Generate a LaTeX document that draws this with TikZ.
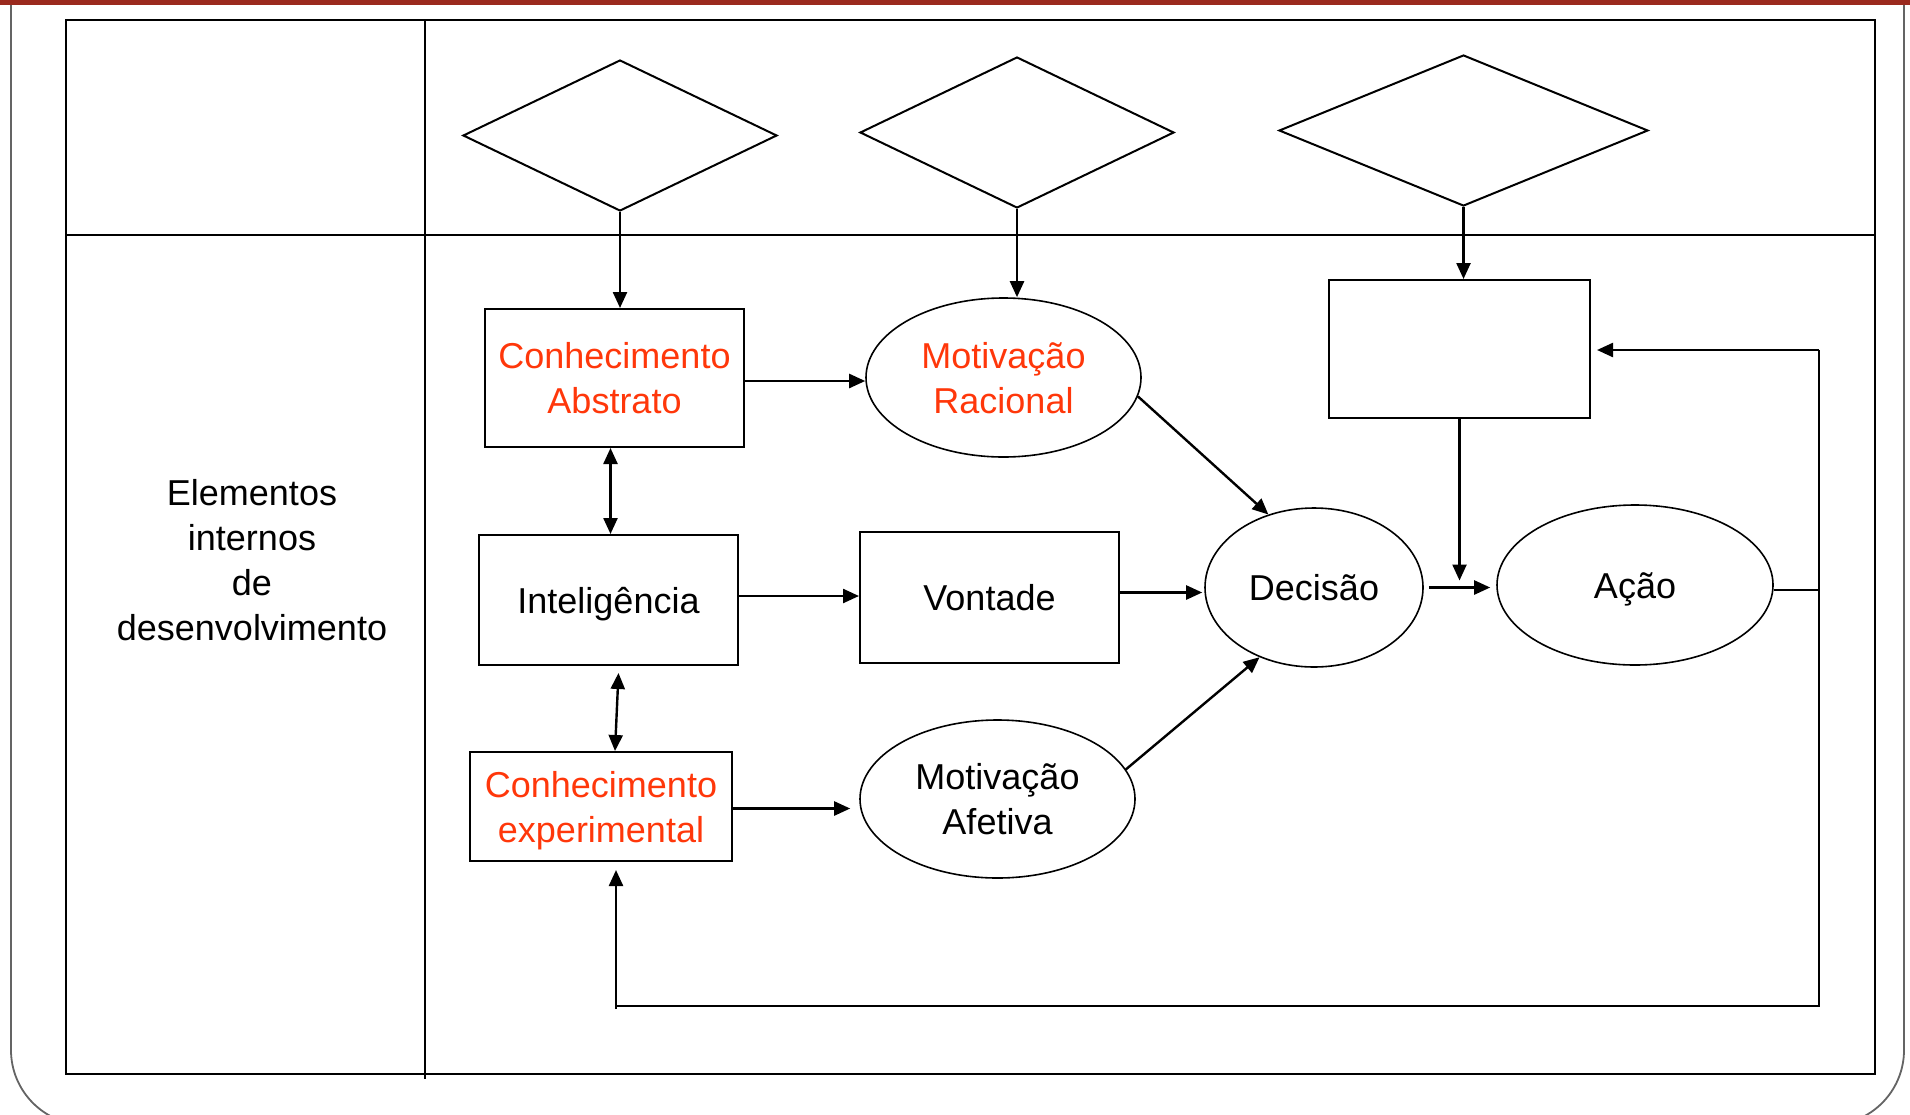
\documentclass[tikz,border=0pt]{standalone}
\usepackage{fontspec}
\setmainfont{Liberation Sans}
\usetikzlibrary{shapes.geometric,arrows.meta,calc}
\definecolor{barred}{RGB}{155,42,30}
\definecolor{txtred}{RGB}{255,55,10}
\definecolor{framegray}{RGB}{100,100,100}
\begin{document}
\begin{tikzpicture}[x=1pt,y=-1pt,
  box/.style={draw,line width=2pt,rectangle,inner sep=0pt,align=center,text depth=0pt},
  ell/.style={draw,line width=1.6pt,ellipse,inner sep=0pt,align=center,text depth=0pt},
  oneline/.style={text height=26pt,text depth=0pt},
  dia/.style={draw,line width=2pt,diamond,inner sep=0pt},
  conn/.style={line width=2.4pt,-{Triangle[length=16pt,width=14pt]}},
  dconn/.style={line width=2.4pt,{Triangle[length=16pt,width=14pt]}-{Triangle[length=16pt,width=14pt]}},
  lineonly/.style={line width=2.2pt},
  font=\fontsize{36}{45}\selectfont]
\useasboundingbox (0,0) rectangle (1910,1114);
% page decoration
\fill[barred] (0,0) rectangle (1910,5);
\draw[framegray,line width=1.8pt,rounded corners=75pt] (11,5) -- (11,1125) -- (1904,1125) -- (1904,5);
% table
\draw[line width=2pt] (66,20) rectangle (1875,1074);
\draw[line width=2pt] (425,20) -- (425,1079);
\draw[line width=2pt] (66,235) -- (1875,235);
% diamonds
\node[dia,minimum width=314,minimum height=151] (d1) at (620,135.5) {};
\node[dia,minimum width=314,minimum height=151] (d2) at (1017,132.5) {};
\node[dia,minimum width=369,minimum height=151] (d3) at (1463.5,130.5) {};
% nodes
\node[box,minimum width=259,minimum height=138,text=txtred] (ca) at (614.5,378) {Conhecimento\\Abstrato};
\node[box,oneline,minimum width=259,minimum height=130] (int) at (608.5,600) {Inteligência};
\node[box,minimum width=262,minimum height=109,text=txtred] (ce) at (601,806.5) {Conhecimento\\experimental};
\node[box,oneline,minimum width=259,minimum height=131] (vo) at (989.5,597.5) {Vontade};
\node[box,minimum width=261,minimum height=138] (eb) at (1459.5,349) {};
\node[ell,minimum width=275,minimum height=159,text=txtred] (mr) at (1003.5,377.5) {Motivação\\Racional};
\node[ell,minimum width=275,minimum height=158] (ma) at (997.5,799) {Motivação\\Afetiva};
\node[ell,oneline,minimum width=218,minimum height=159] (dec) at (1314,587.5) {Decisão};
\node[ell,oneline,minimum width=276,minimum height=160] (acao) at (1635,585) {Ação};
\node[align=center] (el) at (252,560) {Elementos\\internos\\de\\desenvolvimento};
% connectors
\draw[conn] (d1.south) -- (d1.south |- ca.north);
\draw[conn] (d2.south) -- (d2.south |- mr.north);
\draw[conn] (d3.south) -- (d3.south |- eb.north);
\draw[conn] ([yshift=-3pt]ca.east) -- ([yshift=-3pt]ca.east -| mr.west);
\draw[dconn] ($(ca.south)+(-4,0)$) -- ($(int.north)+(2,0)$);
\draw[dconn] ($(int.south)+(10,7)$) -- ($(ce.north)+(14,0)$);
\draw[conn] ([yshift=4pt]int.east) -- ([yshift=4pt]int.east -| vo.west);
\draw[conn,shorten >=9pt] ([yshift=-2pt]ce.east) -- ([yshift=-2pt]ce.east -| ma.west);
\draw[conn] (mr.-8) -- (dec.122);
\draw[conn] (ma.13) -- (dec.232);
\draw[conn,shorten >=2pt] ([yshift=5pt]vo.east) -- ([yshift=5pt]vo.east -| dec.west);
\draw[conn,shorten <=5pt,shorten >=6pt] (dec.east) -- (dec.east -| acao.west);
\coordinate (j) at ([yshift=7pt]eb.south |- dec.east);
\draw[conn] (eb.south) -- (j);
% feedback loop
\coordinate (rt) at (1819,350);
\coordinate (rb) at (1819,1006);
\coordinate (lb) at (616,1006);
\draw[lineonly] ([yshift=-5pt]acao.east) -- ([yshift=-5pt]acao.east -| rt);
\draw[conn,shorten >=6pt] (rt) -- (rt -| eb.east);
\draw[lineonly] (rt) -- (rb) -- (lb);
\draw[conn,shorten >=8pt] ([yshift=-3pt]lb) -- (lb |- ce.south);
\end{tikzpicture}
\end{document}
